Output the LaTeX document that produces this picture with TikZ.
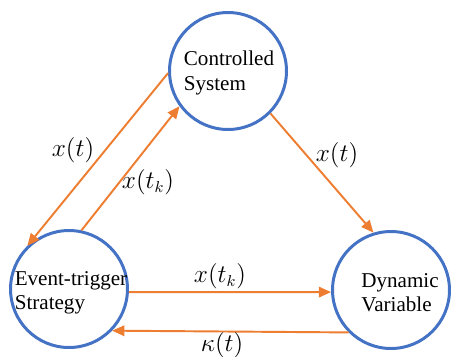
\documentclass[tikz,border=0pt]{standalone}
\usepackage{fontspec}
\setmainfont{Liberation Serif}
\usetikzlibrary{arrows.meta}
\definecolor{ringblue}{RGB}{68,114,196}
\definecolor{flow}{RGB}{237,125,49}
\tikzset{
	block/.style={circle, draw=ringblue, line width=1.7pt, minimum size=2.34cm, inner sep=0pt},
	blocktext/.style={align=left, inner sep=0pt, font=\fontsize{12}{13.8}\selectfont},
	sig/.style={draw=flow, line width=1.1pt, -{Triangle[length=7pt,width=6pt]}},
	lab/.style={font=\fontsize{13.5}{15}\selectfont}
}
\begin{document}
\begin{tikzpicture}[x=0.02cm, y=-0.02cm]
				\useasboundingbox (0, 0) rectangle (452, 356);

				%%the three blocks
				\node[block] (plant) at (228, 71) {};
					\node[blocktext] (planttext) at (229, 73) {Controlled\\System};
				\node[block] (trig) at (69, 289) {};
					\node[blocktext] (trigtext) at (71, 293) {Event-trigger\\Strategy};
				\node[block] (dyn) at (391, 290) {};
					\node[blocktext] (dyntext) at (400, 293) {Dynamic\\Variable};

				%%plant and trigger
				\draw[sig](plant.182) to (trig.134);
					\node[lab] (xa) at (73, 150) {$x(t)$};
				\draw[sig](trig.78) to (plant.216);
					\node[lab] (xb) at (148, 182) {$x(t_k)$};

				%%plant to dynamic variable
				\draw[sig](plant.315) to (dyn.107);
					\node[lab] (xc) at (337, 155) {$x(t)$};

				%%trigger and dynamic variable
				\draw[sig](trig.-3) to (dyn.182);
					\node[lab] (xd) at (220, 276) {$x(t_k)$};
				\draw[sig](dyn.225) to (trig.316);
					\node[lab] (ka) at (222, 345) {$\kappa(t)$};
			\end{tikzpicture}
\end{document}
